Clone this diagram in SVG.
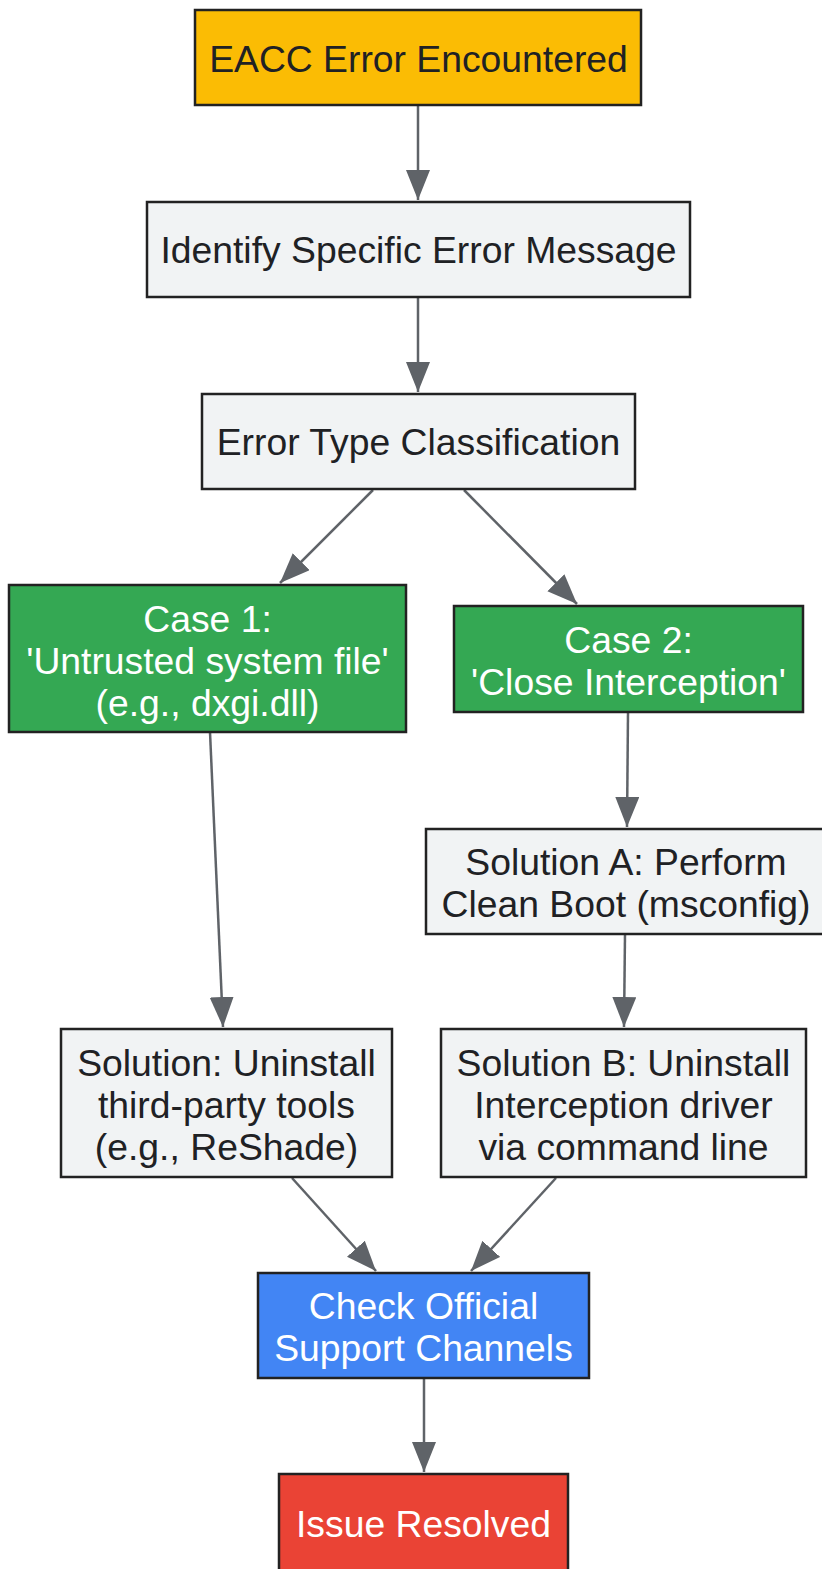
<svg xmlns="http://www.w3.org/2000/svg" width="822" height="1569" viewBox="0 0 822 1569">
<style>
.n{stroke:#222222;stroke-width:2.5}
.t{font-family:"Liberation Sans",Arial,sans-serif;font-size:37.3px;text-anchor:middle}
.d{fill:#202124}
.w{fill:#ffffff}
.e{stroke:#5f6368;stroke-width:2.5;fill:none;marker-end:url(#ah)}
</style>
<defs>
<marker id="ah" markerUnits="userSpaceOnUse" markerWidth="32" markerHeight="26" refX="30" refY="12" orient="auto">
<path d="M0,0 L30,12 L0,24 Z" fill="#5f6368"/>
</marker>
</defs>
<rect width="822" height="1569" fill="#ffffff"/>
<g id="connectors">
<line class="e" x1="418" y1="105" x2="418" y2="200"/>
<line class="e" x1="418" y1="297" x2="418" y2="392"/>
<line class="e" x1="373" y1="490" x2="280" y2="583"/>
<line class="e" x1="464" y1="490" x2="577" y2="604"/>
<line class="e" x1="210" y1="732" x2="223" y2="1027"/>
<line class="e" x1="628" y1="712" x2="627" y2="827"/>
<line class="e" x1="625" y1="934" x2="624" y2="1027"/>
<line class="e" x1="292" y1="1178" x2="376" y2="1271"/>
<line class="e" x1="556" y1="1178" x2="471" y2="1271"/>
<line class="e" x1="424" y1="1378" x2="424" y2="1472"/>
</g>
<g id="eacc">
<rect class="n" x="195" y="10" width="446" height="95" fill="#fbbc04"/>
<text class="t d" x="418.5" y="72">EACC Error Encountered</text>
</g>
<g id="identify">
<rect class="n" x="147" y="202" width="543" height="95" fill="#f1f3f4"/>
<text class="t d" x="418.5" y="263">Identify Specific Error Message</text>
</g>
<g id="classify">
<rect class="n" x="202" y="394" width="433" height="95" fill="#f1f3f4"/>
<text class="t d" x="418.5" y="455">Error Type Classification</text>
</g>
<g id="case1">
<rect class="n" x="9" y="585" width="397" height="147" fill="#34a853"/>
<text class="t w" x="207.5" y="632">Case 1:</text>
<text class="t w" x="207.5" y="674">'Untrusted system file'</text>
<text class="t w" x="207.5" y="716">(e.g., dxgi.dll)</text>
</g>
<g id="case2">
<rect class="n" x="454" y="606" width="349" height="106" fill="#34a853"/>
<text class="t w" x="628.5" y="653">Case 2:</text>
<text class="t w" x="628.5" y="695">'Close Interception'</text>
</g>
<g id="solA">
<rect class="n" x="426" y="829" width="398" height="105" fill="#f1f3f4"/>
<text class="t d" x="626" y="875">Solution A: Perform</text>
<text class="t d" x="626" y="917">Clean Boot (msconfig)</text>
</g>
<g id="sol1">
<rect class="n" x="61" y="1029" width="331" height="148" fill="#f1f3f4"/>
<text class="t d" x="226.5" y="1076">Solution: Uninstall</text>
<text class="t d" x="226.5" y="1118">third-party tools</text>
<text class="t d" x="226.5" y="1160">(e.g., ReShade)</text>
</g>
<g id="solB">
<rect class="n" x="441" y="1029" width="365" height="148" fill="#f1f3f4"/>
<text class="t d" x="623.5" y="1076">Solution B: Uninstall</text>
<text class="t d" x="623.5" y="1118">Interception driver</text>
<text class="t d" x="623.5" y="1160">via command line</text>
</g>
<g id="support">
<rect class="n" x="258" y="1273" width="331" height="105" fill="#4285f4"/>
<text class="t w" x="423.5" y="1319">Check Official</text>
<text class="t w" x="423.5" y="1361">Support Channels</text>
</g>
<g id="resolved">
<rect class="n" x="279" y="1474" width="289" height="110" fill="#ea4335"/>
<text class="t w" x="423.5" y="1537">Issue Resolved</text>
</g>
</svg>
